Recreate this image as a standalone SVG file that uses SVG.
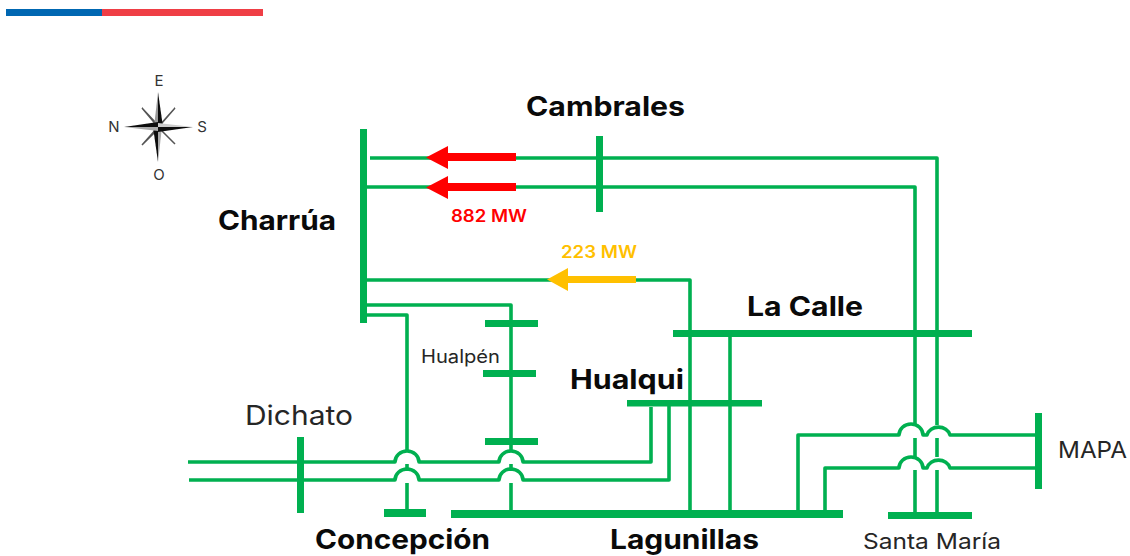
<svg xmlns="http://www.w3.org/2000/svg" width="1130" height="556" viewBox="0 0 1130 556">
<style>
text{font-family:"Inter","Liberation Sans",sans-serif;fill:#262626}
.b{font-weight:700;fill:#0a0a0a;font-size:27px}
.bus{fill:#00B050}
.ln{fill:none;stroke:#00B050;stroke-width:3.6;stroke-linejoin:round}
.mw{font-size:17px;font-weight:600}
.cp{font-size:15px;fill:#333;text-anchor:middle}
</style>
<defs>
<filter id="soft" x="-10%" y="-10%" width="120%" height="120%"><feGaussianBlur stdDeviation="0.6"/></filter>
</defs>
<rect x="6" y="9" width="96" height="7" fill="#0067B2"/>
<rect x="102" y="9" width="161" height="7" fill="#EF3E45"/>
<g id="compass">
<g filter="url(#soft)">
<path d="M158 127L142 108L155 122Z" fill="#555" stroke="#555" stroke-width="1.500"/>
<path d="M158 127L175 108L162 123Z" fill="#555" stroke="#555" stroke-width="1.500"/>
<path d="M158 127L142 145L155 132Z" fill="#555" stroke="#555" stroke-width="1.500"/>
<path d="M158 127L175 144L162 131Z" fill="#555" stroke="#555" stroke-width="1.500"/>
<path d="M158 92L154 127L158 127Z" fill="#999"/><path d="M158 92L163 127L158 127Z" fill="#111"/>
<path d="M158 162L153 127L158 127Z" fill="#111"/><path d="M158 162L162 127L158 127Z" fill="#aaa"/>
<path d="M124 127L158 122L158 127Z" fill="#111"/><path d="M124 127L158 131L158 127Z" fill="#aaa"/>
<path d="M193 127L158 123L158 127Z" fill="#ccc"/><path d="M193 127L158 132L158 127Z" fill="#111"/>
</g>
<text class="cp" x="159" y="86">E</text>
<text class="cp" x="114" y="132">N</text>
<text class="cp" x="202" y="132">S</text>
<text class="cp" x="159" y="180">O</text>
</g>
<g id="connectors">
<path class="ln" d="M370 158H937V425M937 438V457M937 470V512"/>
<path class="ln" d="M367 187H915V425M915 438V457M915 470V512"/>
<path class="ln" d="M367 280H690V511"/>
<path class="ln" d="M367 305H511V452M511 464V471M511 483V511"/>
<path class="ln" d="M367 315H407V452M407 464V471M407 483V510"/>
<path class="ln" d="M730 337V511"/>
<path class="ln" d="M188 462H395A12 11 0 0 1 419 462H499A12 11 0 0 1 523 462H651V407"/>
<path class="ln" d="M189 480H395A12 11 0 0 1 419 480H499A12 11 0 0 1 523 480H669V406"/>
<path class="ln" d="M798 511V435H899A12 11 0 0 1 923 435H927A12 11 0 0 1 950 435H1036"/>
<path class="ln" d="M825 511V468H899A12 11 0 0 1 923 468H927A12 11 0 0 1 950 468H1036"/>
</g>
<g id="charrua"><rect class="bus" x="360" y="129" width="7" height="194"/><text class="b" x="218" y="230" textLength="118" lengthAdjust="spacingAndGlyphs">Charrúa</text></g>
<g id="cambrales"><rect class="bus" x="596" y="136" width="7" height="76"/><text class="b" x="526" y="116" textLength="159" lengthAdjust="spacingAndGlyphs">Cambrales</text></g>
<g id="lacalle"><rect class="bus" x="673" y="330" width="299" height="7"/><text class="b" x="747" y="316" textLength="116" lengthAdjust="spacingAndGlyphs">La Calle</text></g>
<g id="hualqui"><rect class="bus" x="627" y="400" width="135" height="6.500"/><text class="b" x="570" y="389" textLength="114" lengthAdjust="spacingAndGlyphs">Hualqui</text></g>
<g id="hualpen"><rect class="bus" x="485" y="320" width="53" height="7"/><rect class="bus" x="483" y="370" width="53" height="7"/><rect class="bus" x="485" y="438" width="53" height="7"/><text x="421" y="363" font-size="18" textLength="79" lengthAdjust="spacingAndGlyphs">Hualpén</text></g>
<g id="dichato"><rect class="bus" x="297" y="437" width="7" height="76"/><text x="245" y="425" font-size="27" textLength="108" lengthAdjust="spacingAndGlyphs">Dichato</text></g>
<g id="concepcion"><rect class="bus" x="384" y="509" width="42" height="8"/><text class="b" x="315" y="549" textLength="175" lengthAdjust="spacingAndGlyphs">Concepción</text></g>
<g id="lagunillas"><rect class="bus" x="451" y="510" width="392" height="8"/><text class="b" x="610" y="549" textLength="149" lengthAdjust="spacingAndGlyphs">Lagunillas</text></g>
<g id="santamaria"><rect class="bus" x="888" y="512" width="84" height="7"/><text x="863" y="549" font-size="22" textLength="138" lengthAdjust="spacingAndGlyphs">Santa María</text></g>
<g id="mapa"><rect class="bus" x="1035" y="413" width="7" height="76"/><text x="1058" y="458" font-size="23" textLength="69" lengthAdjust="spacingAndGlyphs">MAPA</text></g>
<g id="flow-882">
<path d="M516 153H448V146L426 157.500L448 169V161H516Z" fill="#F00"/>
<path d="M516 183H448V176L426 187.500L448 199V191H516Z" fill="#F00"/>
<text class="mw" x="451" y="222" style="fill:#F00" textLength="76" lengthAdjust="spacingAndGlyphs">882 MW</text>
</g>
<g id="flow-223">
<path d="M636 276H568V268L547 279.500L568 291V283H636Z" fill="#FFC000"/>
<text class="mw" x="561" y="258" style="fill:#FFC000" textLength="76" lengthAdjust="spacingAndGlyphs">223 MW</text>
</g>
</svg>
